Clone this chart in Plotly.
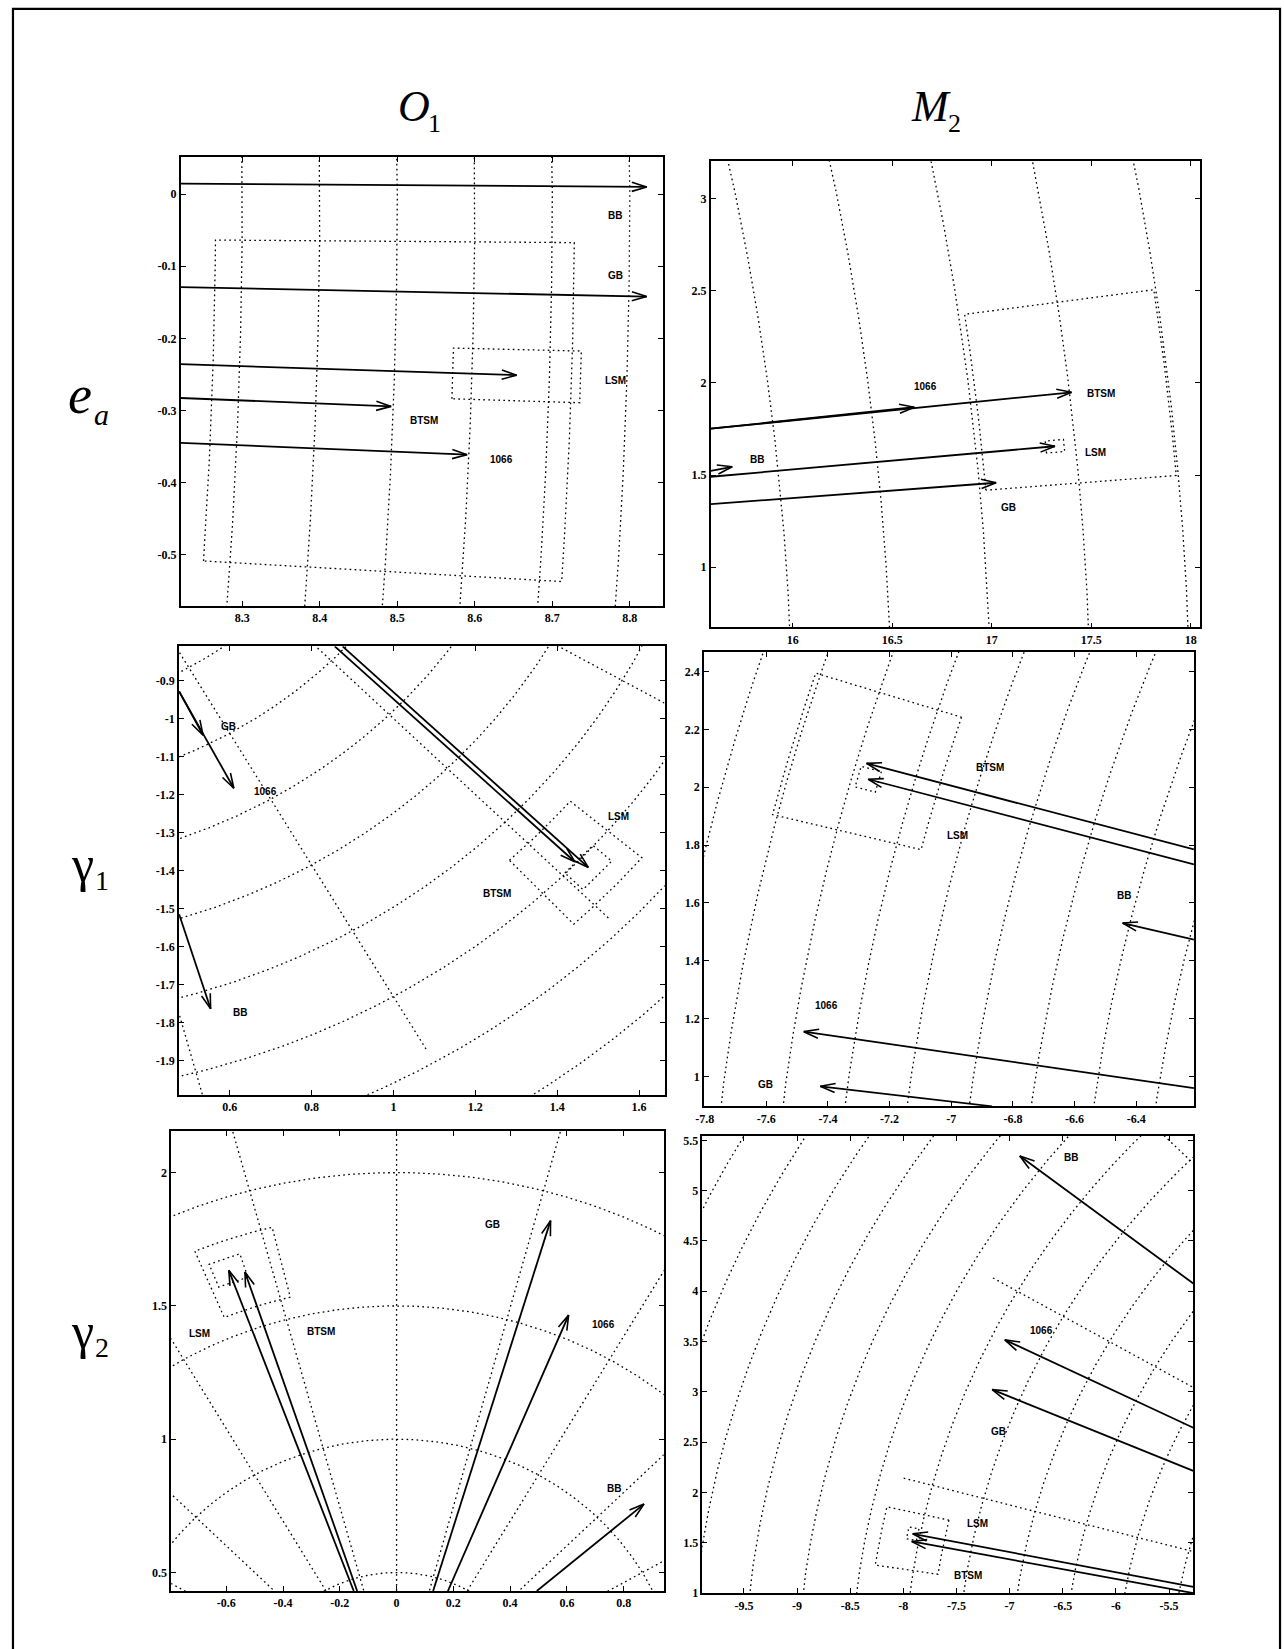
import numpy as np
import plotly.graph_objects as go

FIG_W, FIG_H = 1284, 1649

# ====================== DATA ======================
# ---- column O1, row e_a ----
ea_o1_xrange = [8.2206, 8.8428]
ea_o1_yrange = [-0.5713, 0.0514]
ea_o1_xticks = [8.3, 8.4, 8.5, 8.6, 8.7, 8.8]
ea_o1_xticktext = ["8.3", "8.4", "8.5", "8.6", "8.7", "8.8"]
ea_o1_yticks = [0.0, -0.1, -0.2, -0.3, -0.4, -0.5]
ea_o1_yticktext = ["0", "-0.1", "-0.2", "-0.3", "-0.4", "-0.5"]
ea_o1_amp_circles = [8.3, 8.4, 8.5, 8.6, 8.7, 8.8]
ea_o1_phase_lines = []
ea_o1_phase_rmax = 0.0
ea_o1_names = ["BB", "GB", "LSM", "BTSM", "1066"]
ea_o1_tail_x = [8.2206, 8.2206, 8.2206, 8.2206, 8.2206]
ea_o1_tail_y = [0.0146, -0.1289, -0.2359, -0.2828, -0.3449]
ea_o1_tip_x = [8.8218, 8.8218, 8.654, 8.492, 8.590]
ea_o1_tip_y = [0.0100, -0.1421, -0.2511, -0.2944, -0.3614]
ea_o1_label_x = [8.781, 8.782, 8.782, 8.534, 8.634]
ea_o1_label_y = [-0.030, -0.113, -0.258, -0.314, -0.368]
ea_o1_box_names = ["BTSM", "LSM"]
ea_o1_box_damp = [0.2315, 0.0825]
ea_o1_box_dphase = [1.544, 0.235]

# ---- column M2, row e_a ----
ea_m2_xrange = [15.588, 18.046]
ea_m2_yrange = [0.673, 3.2016]
ea_m2_xticks = [16, 16.5, 17, 17.5, 18]
ea_m2_xticktext = ["16", "16.5", "17", "17.5", "18"]
ea_m2_yticks = [1, 1.5, 2, 2.5, 3]
ea_m2_yticktext = ["1", "1.5", "2", "2.5", "3"]
ea_m2_amp_circles = [16, 16.5, 17, 17.5, 18]
ea_m2_phase_lines = []
ea_m2_phase_rmax = 0.0
ea_m2_names = ["BB", "GB", "LSM", "BTSM", "1066"]
ea_m2_tail_x = [15.588, 15.588, 15.588, 15.588, 15.588]
ea_m2_tail_y = [1.5231, 1.3418, 1.4906, 1.7515, 1.7515]
ea_m2_tip_x = [15.696, 17.022, 17.3176, 17.4009, 16.611]
ea_m2_tip_y = [1.5448, 1.4582, 1.6561, 1.9488, 1.868]
ea_m2_label_x = [15.821, 17.082, 17.521, 17.551, 16.669]
ea_m2_label_y = [1.5845, 1.325, 1.622, 1.940, 1.979]
ea_m2_box_names = ["BTSM", "LSM"]
ea_m2_box_damp = [0.48, 0.046]
ea_m2_box_dphase = [1.615, 0.108]

# ---- column O1, row gamma1 ----
g1_o1_xrange = [0.4763, 1.6626]
g1_o1_yrange = [-1.99, -0.8103]
g1_o1_xticks = [0.6, 0.8, 1.0, 1.2, 1.4, 1.6]
g1_o1_xticktext = ["0.6", "0.8", "1", "1.2", "1.4", "1.6"]
g1_o1_yticks = [-0.9, -1.0, -1.1, -1.2, -1.3, -1.4, -1.5, -1.6, -1.7, -1.8, -1.9]
g1_o1_yticktext = ["-0.9", "-1", "-1.1", "-1.2", "-1.3", "-1.4", "-1.5", "-1.6", "-1.7", "-1.8", "-1.9"]
g1_o1_amp_circles = [1.0, 1.2, 1.4, 1.6, 1.8, 2.0, 2.2, 2.4]
g1_o1_phase_lines = [-30, -45, -60, -75]
g1_o1_phase_rmax = 2.16
g1_o1_names = ["BB", "GB", "LSM", "BTSM", "1066"]
g1_o1_tail_x = [0.4763, 0.4763, 0.8757, 0.8566, 0.4763]
g1_o1_tail_y = [-1.5152, -0.9288, -0.8103, -0.8103, -0.9288]
g1_o1_tip_x = [0.5533, 0.5348, 1.476, 1.443, 0.6100]
g1_o1_tip_y = [-1.764, -1.044, -1.392, -1.377, -1.1836]
g1_o1_label_x = [0.6250, 0.5975, 1.5498, 1.2533, 0.6878]
g1_o1_label_y = [-1.7726, -1.022, -1.2577, -1.461, -1.192]
g1_o1_box_names = ["BTSM", "LSM"]
g1_o1_box_damp = [0.115, 0.031]
g1_o1_box_dphase = [3.28, 1.43]

# ---- column M2, row gamma1 ----
g1_m2_xrange = [-7.802, -6.2125]
g1_m2_yrange = [0.897, 2.4687]
g1_m2_xticks = [-7.8, -7.6, -7.4, -7.2, -7.0, -6.8, -6.6, -6.4]
g1_m2_xticktext = ["-7.8", "-7.6", "-7.4", "-7.2", "-7", "-6.8", "-6.6", "-6.4"]
g1_m2_yticks = [1.0, 1.2, 1.4, 1.6, 1.8, 2.0, 2.2, 2.4]
g1_m2_yticktext = ["1", "1.2", "1.4", "1.6", "1.8", "2", "2.2", "2.4"]
g1_m2_amp_circles = [6.4, 6.6, 6.8, 7.0, 7.2, 7.4, 7.6, 7.8, 8.0]
g1_m2_phase_lines = []
g1_m2_phase_rmax = 0.0
g1_m2_names = ["BB", "GB", "LSM", "BTSM", "1066"]
g1_m2_tail_x = [-6.2125, -6.8675, -6.2125, -6.2125, -6.2125]
g1_m2_tail_y = [1.4735, 0.897, 1.7333, 1.7849, 0.960]
g1_m2_tip_x = [-6.444, -7.4248, -7.2695, -7.2749, -7.4785]
g1_m2_tip_y = [1.5306, 0.966, 2.0278, 2.0828, 1.155]
g1_m2_label_x = [-6.439, -7.6016, -6.980, -6.873, -7.4035]
g1_m2_label_y = [1.625, 0.9718, 1.834, 2.068, 1.247]
g1_m2_box_names = ["BTSM", "LSM"]
g1_m2_box_damp = [0.2485, 0.034]
g1_m2_box_dphase = [1.865, 0.28]

# ---- column O1, row gamma2 ----
g2_o1_xrange = [-0.7938, 0.9410]
g2_o1_yrange = [0.4304, 2.1555]
g2_o1_xticks = [-0.6, -0.4, -0.2, 0.0, 0.2, 0.4, 0.6, 0.8]
g2_o1_xticktext = ["-0.6", "-0.4", "-0.2", "0", "0.2", "0.4", "0.6", "0.8"]
g2_o1_yticks = [0.5, 1.0, 1.5, 2.0]
g2_o1_yticktext = ["0.5", "1", "1.5", "2"]
g2_o1_amp_circles = [0.5, 1.0, 1.5, 2.0]
g2_o1_phase_lines = [30, 45, 60, 75, 90, 105, 120, 135, 150]
g2_o1_phase_rmax = 2.6
g2_o1_names = ["BB", "GB", "LSM", "BTSM", "1066"]
g2_o1_tail_x = [0.4940, 0.1287, -0.1508, -0.1388, 0.1808]
g2_o1_tail_y = [0.4304, 0.4304, 0.4304, 0.4304, 0.4304]
g2_o1_tip_x = [0.8715, 0.5425, -0.591, -0.5342, 0.6061]
g2_o1_tip_y = [0.7564, 1.8198, 1.6332, 1.627, 1.4653]
g2_o1_label_x = [0.7648, 0.3374, -0.6933, -0.2655, 0.7288]
g2_o1_label_y = [0.8161, 1.8048, 1.397, 1.403, 1.4317]
g2_o1_box_names = ["BTSM", "LSM"]
g2_o1_box_damp = [0.135, 0.046]
g2_o1_box_dphase = [4.45, 1.85]

# ---- column M2, row gamma2 ----
g2_m2_xrange = [-9.891, -5.271]
g2_m2_yrange = [0.998, 5.542]
g2_m2_xticks = [-9.5, -9.0, -8.5, -8.0, -7.5, -7.0, -6.5, -6.0, -5.5]
g2_m2_xticktext = ["-9.5", "-9", "-8.5", "-8", "-7.5", "-7", "-6.5", "-6", "-5.5"]
g2_m2_yticks = [1.0, 1.5, 2.0, 2.5, 3.0, 3.5, 4.0, 4.5, 5.0, 5.5]
g2_m2_yticktext = ["1", "1.5", "2", "2.5", "3", "3.5", "4", "4.5", "5", "5.5"]
g2_m2_amp_circles = [5.5, 6.0, 6.5, 7.0, 7.5, 8.0, 8.5, 9.0, 9.5, 10.0, 10.5, 11.0]
g2_m2_phase_lines = [135, 150, 165]
g2_m2_phase_rmax = 8.29
g2_m2_names = ["BB", "GB", "LSM", "BTSM", "1066"]
g2_m2_tail_x = [-5.271, -5.271, -5.271, -5.271, -5.271]
g2_m2_tail_y = [4.0766, 2.2149, 1.0626, 1.0, 2.6438]
g2_m2_tip_x = [-6.904, -7.164, -7.912, -7.921, -7.045]
g2_m2_tip_y = [5.3444, 3.022, 1.5894, 1.5134, 3.5163]
g2_m2_label_x = [-6.420, -7.108, -7.305, -7.389, -6.702]
g2_m2_label_y = [5.328, 2.610, 1.688, 1.177, 3.6082]
g2_m2_box_names = ["BTSM", "LSM"]
g2_m2_box_damp = [0.299, 0.048]
g2_m2_box_dphase = [2.02, 0.42]

# titles: symbol and its subscript
column_symbols = ["O", "M"]
column_subscripts = ["1", "2"]
row_symbols = ["e", "\u03b3", "\u03b3"]
row_subscripts = ["a", "1", "2"]

# ====================== LAYOUT (pixel frames: left, right, top, bottom) ======================
frames = [
    (173.0, 658.6, 155.0, 606.7),
    (706.7, 1199.3, 159.3, 628.3),
    (171.3, 660.3, 647.3, 1098.3),
    (700.0, 1193.3, 652.7, 1110.0),
    (163.4, 659.3, 1135.0, 1597.7),
    (698.3, 1192.7, 1140.0, 1600.0),
]
col_sym_px = [(408, 104), (929, 104)]
col_sub_px = [(428, 121), (952, 121)]
row_sym_px = [(72, 394), (74, 866), (74, 1336)]
row_sub_px = [(93, 414), (94, 883), (94, 1353)]
row_sym_italic = [True, False, False]

g = globals()
panel_keys = ["ea_o1", "ea_m2", "g1_o1", "g1_m2", "g2_o1", "g2_m2"]
panels = []
for key, fr in zip(panel_keys, frames):
    p = {f: g[key + "_" + f] for f in [
        "xrange", "yrange", "xticks", "xticktext", "yticks", "yticktext",
        "amp_circles", "phase_lines", "phase_rmax", "names", "tail_x", "tail_y",
        "tip_x", "tip_y", "label_x", "label_y", "box_names", "box_damp", "box_dphase"]}
    p["frame"] = fr
    panels.append(p)

DOT = "1.7px,3.3px"
GRID_W = 1.3
fig = go.Figure()
annotations = []

for i, p in enumerate(panels):
    k = "" if i == 0 else str(i + 1)
    xa, ya = "x" + k, "y" + k
    l, r, t, b = p["frame"]
    xr, yr = p["xrange"], p["yrange"]
    sx = (r - l) / (xr[1] - xr[0])
    sy = (b - t) / (yr[1] - yr[0])

    # polar grid: amplitude circles
    cx = np.array([xr[0], xr[1], xr[0], xr[1]])
    cy = np.array([yr[0], yr[0], yr[1], yr[1]])
    ang = np.degrees(np.arctan2(cy, cx))
    th = np.radians(np.linspace(ang.min() - 3, ang.max() + 3, 900))
    for rad in p["amp_circles"]:
        fig.add_trace(go.Scatter(
            x=rad * np.cos(th), y=rad * np.sin(th), mode="lines",
            line=dict(color="black", width=GRID_W, dash=DOT),
            xaxis=xa, yaxis=ya, hoverinfo="skip"))
    # polar grid: phase lines
    for a in p["phase_lines"]:
        ar = np.radians(a)
        fig.add_trace(go.Scatter(
            x=[0, p["phase_rmax"] * np.cos(ar)], y=[0, p["phase_rmax"] * np.sin(ar)],
            mode="lines", line=dict(color="black", width=GRID_W, dash=DOT),
            xaxis=xa, yaxis=ya, hoverinfo="skip"))

    # error boxes (amplitude +- damp, phase +- dphase) around the arrow tips
    for nm, da, dp in zip(p["box_names"], p["box_damp"], p["box_dphase"]):
        j = p["names"].index(nm)
        tx, ty = p["tip_x"][j], p["tip_y"][j]
        r0 = np.hypot(tx, ty)
        a0 = np.degrees(np.arctan2(ty, tx))
        tt = np.radians(np.linspace(a0 - dp, a0 + dp, 40))
        rin, rout = r0 - da, r0 + da
        bx = np.concatenate([rin * np.cos(tt), rout * np.cos(tt[::-1]), [rin * np.cos(tt[0])]])
        by = np.concatenate([rin * np.sin(tt), rout * np.sin(tt[::-1]), [rin * np.sin(tt[0])]])
        fig.add_trace(go.Scatter(
            x=bx, y=by, mode="lines", line=dict(color="black", width=GRID_W, dash=DOT),
            xaxis=xa, yaxis=ya, hoverinfo="skip"))

    # arrows
    for j in range(len(p["names"])):
        x0, y0 = p["tail_x"][j], p["tail_y"][j]
        x1, y1 = p["tip_x"][j], p["tip_y"][j]
        fig.add_trace(go.Scatter(
            x=[x0, x1], y=[y0, y1], mode="lines",
            line=dict(color="black", width=1.8),
            xaxis=xa, yaxis=ya, hoverinfo="skip"))
        ux, uy = (x0 - x1) * sx, (y0 - y1) * sy
        n = np.hypot(ux, uy)
        ux, uy = ux / n, uy / n
        L, w = 15.0, 4.6
        b1x = x1 + (L * ux - w * uy) / sx
        b1y = y1 + (L * uy + w * ux) / sy
        b2x = x1 + (L * ux + w * uy) / sx
        b2y = y1 + (L * uy - w * ux) / sy
        fig.add_trace(go.Scatter(
            x=[b1x, x1, b2x], y=[b1y, y1, b2y], mode="lines",
            line=dict(color="black", width=1.6),
            xaxis=xa, yaxis=ya, hoverinfo="skip"))
        annotations.append(dict(
            x=p["label_x"][j], y=p["label_y"][j], xref=xa, yref=ya,
            text=p["names"][j], showarrow=False, xanchor="center", yanchor="middle",
            font=dict(family="Liberation Sans", size=10, color="black", weight="bold")))

    axis_common = dict(
        showgrid=False, zeroline=False, showline=True, mirror="ticks",
        linecolor="black", linewidth=1.7, ticks="inside", ticklen=5,
        tickwidth=1.2, tickcolor="black",
        tickfont=dict(family="Liberation Serif", size=12, color="black", weight="bold"),
    )
    fig.update_layout(**{
        "xaxis" + k: dict(axis_common, range=xr, domain=[l / FIG_W, r / FIG_W],
                          anchor=ya, tickmode="array", tickvals=p["xticks"],
                          ticktext=p["xticktext"]),
        "yaxis" + k: dict(axis_common, range=yr,
                          domain=[1 - b / FIG_H, 1 - t / FIG_H],
                          anchor=xa, tickmode="array", tickvals=p["yticks"],
                          ticktext=p["yticktext"]),
    })


def paper_text(txt, px, py, size, italic):
    return dict(
        x=px / FIG_W, y=1 - py / FIG_H, xref="paper", yref="paper", text=txt,
        showarrow=False, xanchor="center", yanchor="middle",
        font=dict(family="Liberation Serif", size=size, color="black",
                  style="italic" if italic else "normal"))


for s, sub, (px, py), (qx, qy) in zip(column_symbols, column_subscripts, col_sym_px, col_sub_px):
    annotations.append(paper_text(s, px, py, 44, True))
    annotations.append(paper_text(sub, qx, qy, 26, False))
for s, sub, (px, py), (qx, qy), it in zip(row_symbols, row_subscripts, row_sym_px, row_sub_px, row_sym_italic):
    annotations.append(paper_text(s, px, py, 54 if it else 50, it))
    annotations.append(paper_text(sub, qx, qy, 30 if it else 28, it))

fig.update_layout(
    width=FIG_W, height=FIG_H, margin=dict(l=0, r=0, t=0, b=0),
    paper_bgcolor="white", plot_bgcolor="white", showlegend=False,
    annotations=annotations,
    shapes=[dict(type="rect", xref="paper", yref="paper",
                 x0=4 / FIG_W, x1=1280 / FIG_W, y0=-0.02, y1=1 - 6 / FIG_H,
                 line=dict(color="black", width=2.2), fillcolor="rgba(0,0,0,0)",
                 layer="above")],
)

fig.write_html("out.html")
